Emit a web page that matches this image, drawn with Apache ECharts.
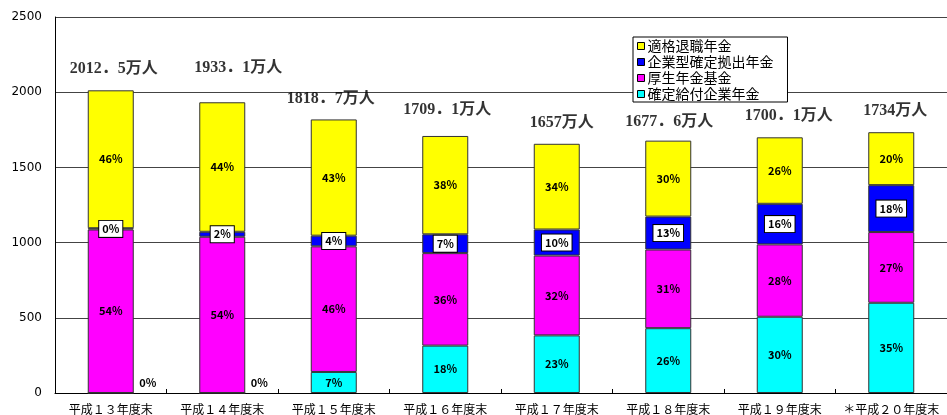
<!DOCTYPE html>
<html>
<head>
<meta charset="utf-8">
<script src="https://cdn.jsdelivr.net/npm/echarts@6/dist/echarts.min.js"></script>
<style>
html,body{margin:0;padding:0;background:#fff;}
#chart{width:947px;height:415px;}
</style>
</head>
<body>
<div id="chart"></div>
<script>
// ---- data (万人) ----
const categories = ['平成１３年度末','平成１４年度末','平成１５年度末','平成１６年度末','平成１７年度末','平成１８年度末','平成１９年度末','＊平成２０年度末'];
const seriesNames = ['適格退職年金','企業型確定拠出年金','厚生年金基金','確定給付企業年金'];
const dbValues   = [0, 0, 140, 315, 383, 431, 507, 600];      // 確定給付企業年金
const kikinValues = [1087, 1039, 835, 615, 531, 523, 481, 470]; // 厚生年金基金
const dcValues   = [8.5, 33, 71, 125, 173, 219, 270, 312];     // 企業型確定拠出年金
const tekikakuValues = [917, 861, 773, 654, 570, 505, 442, 352]; // 適格退職年金
const dbPct    = ['0%','0%','7%','18%','23%','26%','30%','35%'];
const kikinPct = ['54%','54%','46%','36%','32%','31%','28%','27%'];
const dcPct    = ['0%','2%','4%','7%','10%','13%','16%','18%'];
const tekikakuPct = ['46%','44%','43%','38%','34%','30%','26%','20%'];
const totalLabels = ['2012．5万人','1933．1万人','1818．7万人','1709．1万人','1657万人','1677．6万人','1700．1万人','1734万人'];
const yTicks = [0, 500, 1000, 1500, 2000, 2500];

// ---- layout tweaks for hand-placed total labels (px) ----
const totalShift = [[3,1],[16,-12],[-3,1],[2,-4],[5,1],[1,3],[9,1],[4,1]];

const pctStyle = {show:true, color:'#000', fontSize:11, fontWeight:'bold', fontFamily:'"Noto Sans CJK JP", sans-serif'};
const barBorder = {borderColor:'#333', borderWidth:1};
const BW = 46;

const dbSeries = {
  name: seriesNames[3], type:'bar', stack:'s', barWidth:BW,
  itemStyle: Object.assign({color:'#00FFFF'}, barBorder),
  label: Object.assign({position:'inside', formatter: p => dbPct[p.dataIndex]}, pctStyle),
  data: dbValues.map((v,i) => v === 0 ? {value:v, label:{position:'right', distance:5, offset:[0,-10]}} : v)
};
const kikinSeries = {
  name: seriesNames[2], type:'bar', stack:'s', barWidth:BW,
  itemStyle: Object.assign({color:'#FF00FF'}, barBorder),
  label: Object.assign({position:'inside', formatter: p => kikinPct[p.dataIndex]}, pctStyle),
  data: kikinValues
};
const dcSeries = {
  name: seriesNames[1], type:'bar', stack:'s', barWidth:BW,
  itemStyle: Object.assign({color:'#0000FF'}, barBorder),
  label: Object.assign({position:'inside', formatter: p => dcPct[p.dataIndex],
    backgroundColor:'#fff', borderColor:'#000', borderWidth:1, padding:[3,3,2,3]}, pctStyle),
  labelLayout: {hideOverlap:false},
  data: dcValues
};
const tekikakuSeries = {
  name: seriesNames[0], type:'bar', stack:'s', barWidth:BW,
  itemStyle: Object.assign({color:'#FFFF00'}, barBorder),
  label: Object.assign({position:'inside', formatter: p => tekikakuPct[p.dataIndex]}, pctStyle),
  data: tekikakuValues
};
// total label series: invisible points at the top of each stack holding the total text
const totals = dbValues.map((v,i) => v + kikinValues[i] + dcValues[i] + tekikakuValues[i]);
const totalSeries = {
  name:'total', type:'scatter', symbolSize:0, silent:true,
  data: totals.map((t,i) => ({value:[i, t], label:{offset:totalShift[i]}})),
  label: {show:true, position:'top', distance:14, formatter: p => totalLabels[p.dataIndex],
    color:'#000', fontSize:16, fontWeight:'bold', fontFamily:'"Liberation Serif", "Noto Sans CJK JP", serif'},
  z:10
};

const chart = echarts.init(document.getElementById('chart'));
chart.setOption({
  animation:false,
  backgroundColor:'#fff',
  grid:{left:55, right:-10, top:17, bottom:22, containLabel:false},
  legend:{
    data: seriesNames,
    orient:'vertical', left:633, top:37,
    backgroundColor:'#fff', borderColor:'#000', borderWidth:1,
    padding:[2,14,1,4], itemGap:2, itemWidth:7, itemHeight:7,
    icon:'rect',
    itemStyle:{borderColor:'#000', borderWidth:1},
    textStyle:{fontSize:14, color:'#000', lineHeight:14, fontFamily:'"Noto Sans CJK JP", sans-serif', padding:[0,0,0,-2]}
  },
  xAxis:{
    type:'category', data:categories,
    axisLine:{lineStyle:{color:'#000', width:1}},
    axisTick:{show:true, inside:true, length:4, lineStyle:{color:'#000'}},
    axisLabel:{color:'#000', fontSize:12, margin:10, interval:0, fontFamily:'"Noto Sans CJK JP", sans-serif'}
  },
  yAxis:{
    type:'value', min:0, max:2500, interval:500,
    axisLine:{show:true, lineStyle:{color:'#000'}},
    axisTick:{show:false},
    axisLabel:{color:'#000', fontSize:12, margin:13, fontFamily:'"DejaVu Sans", sans-serif',
      formatter: v => yTicks.indexOf(v) >= 0 ? String(v) : ''},
    splitLine:{lineStyle:{color:'#444', width:1}}
  },
  series:[dbSeries, kikinSeries, dcSeries, tekikakuSeries, totalSeries]
});
</script>
</body>
</html>
